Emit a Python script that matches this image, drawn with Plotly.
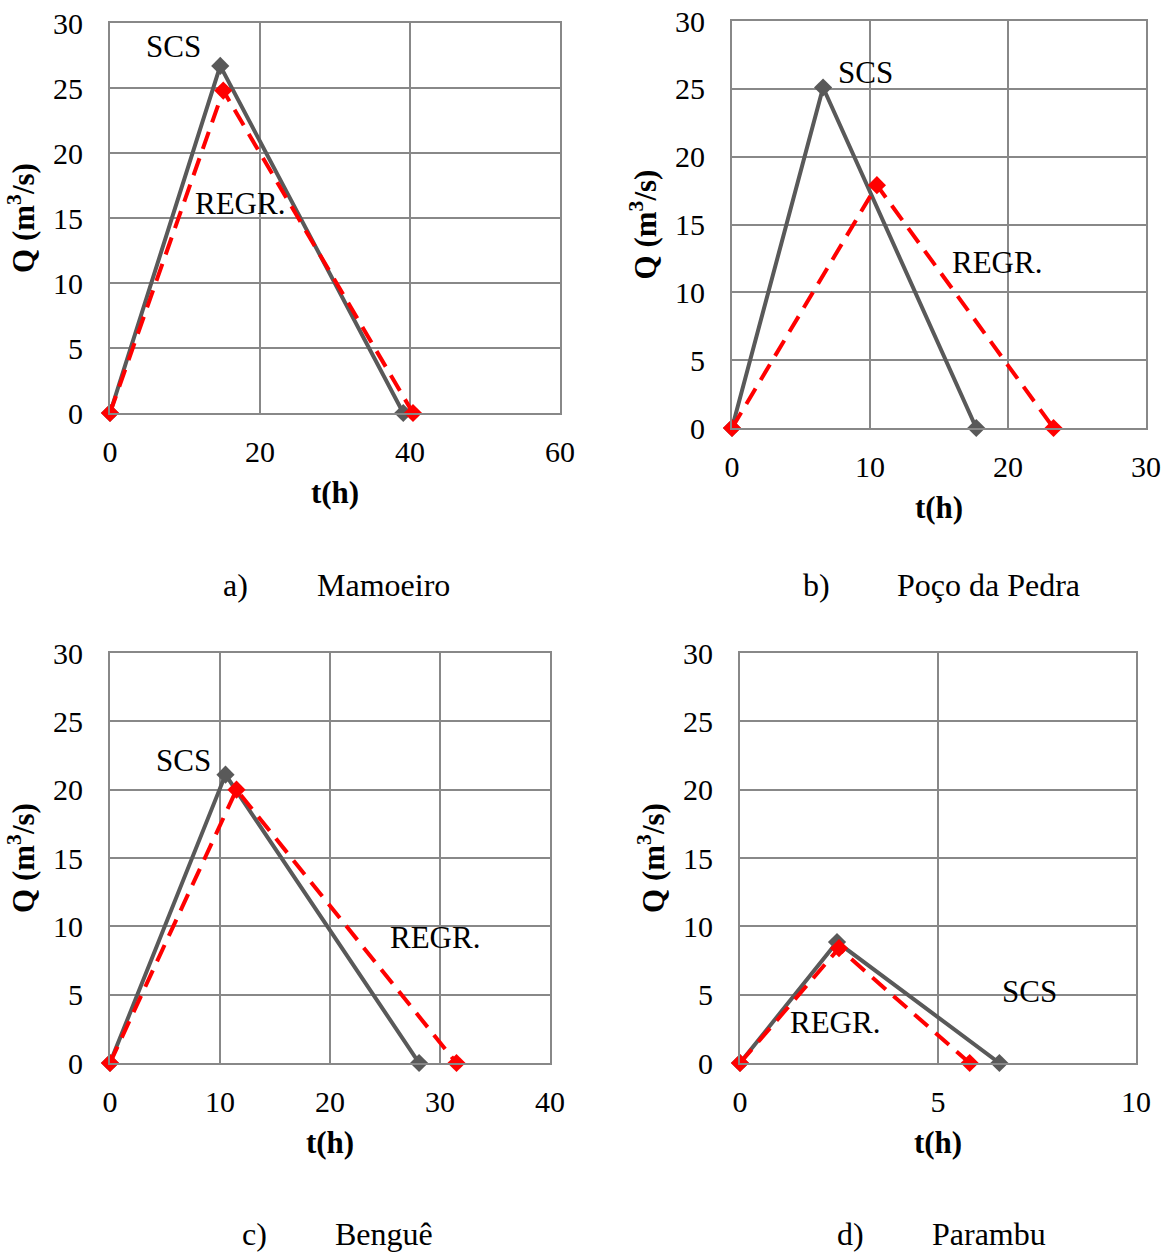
import plotly.graph_objects as go

# ---- data ----
t_scs_a = [0, 14.7, 39.1]
q_scs_a = [0, 26.7, 0]
t_reg_a = [0, 15.1, 40.4]
q_reg_a = [0, 24.8, 0]

t_scs_b = [0, 6.6, 17.7]
q_scs_b = [0, 25.1, 0]
t_reg_b = [0, 10.5, 23.3]
q_reg_b = [0, 17.9, 0]

t_scs_c = [0, 10.5, 28.1]
q_scs_c = [0, 21.1, 0]
t_reg_c = [0, 11.5, 31.5]
q_reg_c = [0, 20.0, 0]

t_scs_d = [0, 2.45, 6.55]
q_scs_d = [0, 8.85, 0]
t_reg_d = [0, 2.5, 5.8]
q_reg_d = [0, 8.4, 0]

letters = ["a)", "b)", "c)", "d)"]
basins = ["Mamoeiro", "Poço da Pedra", "Benguê", "Parambu"]
x_ranges = [[0, 60], [0, 30], [0, 40], [0, 10]]
x_dticks = [20, 10, 10, 5]

W, H = 1173, 1252
FONT = "Liberation Serif, Times New Roman, serif"
GRID = "#888888"
SCS_COLOR = "#595959"
REG_COLOR = "#FF0000"
FS_TICK = 30
FS_TITLE = 31
FS_LABEL = 31
FS_CAP = 32

# plot-area pixel boxes (left, right, top, bottom)
boxes = [(110, 560, 23, 413), (732, 1146, 21, 428), (110, 550, 653, 1063), (740, 1136, 653, 1063)]

fig = go.Figure()
series = [
    (t_scs_a, q_scs_a, t_reg_a, q_reg_a),
    (t_scs_b, q_scs_b, t_reg_b, q_reg_b),
    (t_scs_c, q_scs_c, t_reg_c, q_reg_c),
    (t_scs_d, q_scs_d, t_reg_d, q_reg_d),
]

for i, (ts, qs, tr, qr) in enumerate(series):
    sfx = "" if i == 0 else str(i + 1)
    fig.add_trace(go.Scatter(x=ts, y=qs, mode="lines+markers", xaxis="x" + sfx, yaxis="y" + sfx,
                             line=dict(color=SCS_COLOR, width=4),
                             marker=dict(symbol="diamond", size=14, color=SCS_COLOR),
                             showlegend=False, cliponaxis=False))
    fig.add_trace(go.Scatter(x=tr, y=qr, mode="lines+markers", xaxis="x" + sfx, yaxis="y" + sfx,
                             line=dict(color=REG_COLOR, width=4, dash="18px,10px"),
                             marker=dict(symbol="diamond", size=14, color=REG_COLOR),
                             showlegend=False, cliponaxis=False))

layout = dict(width=W, height=H, margin=dict(l=0, r=0, t=0, b=0),
              paper_bgcolor="white", plot_bgcolor="white",
              font=dict(family=FONT, size=FS_TICK, color="black"))

for i, (l, r, t, b) in enumerate(boxes):
    sfx = "" if i == 0 else str(i + 1)
    layout["xaxis" + sfx] = dict(domain=[l / W, r / W], anchor="y" + sfx, range=x_ranges[i],
                                 dtick=x_dticks[i], tick0=0, showgrid=True, gridcolor=GRID, gridwidth=2,
                                 showline=True, linecolor=GRID, linewidth=2, mirror=True, zeroline=False,
                                 ticks="", ticklabelstandoff=11, automargin=False,
                                 tickfont=dict(size=FS_TICK),
                                 title=dict(text="<b>t(h)</b>", font=dict(size=FS_TITLE), standoff=14))
    layout["yaxis" + sfx] = dict(domain=[1 - b / H, 1 - t / H], anchor="x" + sfx, range=[0, 30],
                                 dtick=5, showgrid=True, gridcolor=GRID, gridwidth=2,
                                 showline=True, linecolor=GRID, linewidth=2, mirror=True, zeroline=False,
                                 ticks="", ticklabelstandoff=19, automargin=False,
                                 tickfont=dict(size=FS_TICK),
                                 title=dict(text="<b>Q (m<sup>3</sup>/s)</b>", font=dict(size=FS_TITLE), standoff=9))

fig.update_layout(**layout)

# series labels
labels = [
    [("SCS", 8.4, 28.2), ("REGR.", 17.3, 16.1)],
    [("SCS", 9.7, 26.2), ("REGR.", 19.2, 12.2)],
    [("SCS", 6.7, 22.1), ("REGR.", 29.5, 9.2)],
    [("SCS", 7.3, 5.2), ("REGR.", 2.4, 3.0)],
]
for i, labs in enumerate(labels):
    sfx = "" if i == 0 else str(i + 1)
    for txt, x, y in labs:
        fig.add_annotation(text=txt, x=x, y=y, xref="x" + sfx, yref="y" + sfx, showarrow=False,
                           font=dict(size=FS_LABEL, family=FONT))

letter_pos = [(235, 585), (816, 585), (254, 1234), (850, 1234)]
name_left = [315, 895, 333, 930]
for lt, nm, (cx, cy), nl in zip(letters, basins, letter_pos, name_left):
    fig.add_annotation(text=lt, x=cx / W, y=1 - cy / H, xref="paper", yref="paper", showarrow=False,
                       font=dict(size=FS_CAP, family=FONT), xanchor="center", yanchor="middle")
    fig.add_annotation(text=nm, x=nl / W, y=1 - cy / H, xref="paper", yref="paper", showarrow=False,
                       font=dict(size=FS_CAP, family=FONT), xanchor="left", yanchor="middle")

fig.write_html("out.html")
